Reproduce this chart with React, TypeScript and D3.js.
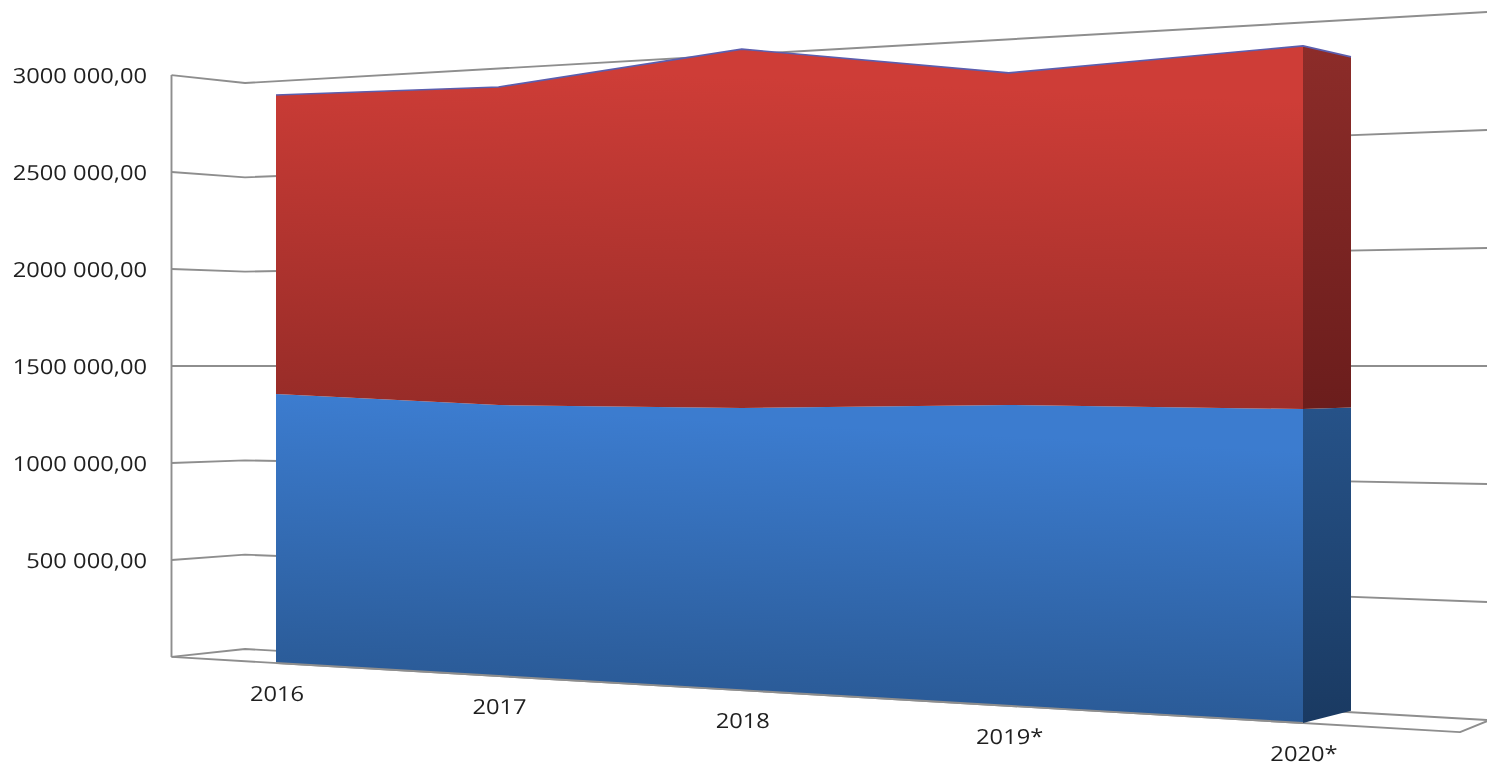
import { useEffect, useRef } from "react"
import * as d3 from "d3"

const years = ["2016", "2017", "2018", "2019*", "2020*"]
const seriesLower = [1358000, 1311000, 1306000, 1328000, 1319000]
const seriesUpper = [1511000, 1539000, 1660000, 1466000, 1526000]
const valueTicks = [0, 500000, 1000000, 1500000, 2000000, 2500000, 3000000]
const tickLabels = ["", "500 000,00", "1000 000,00", "1500 000,00", "2000 000,00", "2500 000,00", "3000 000,00"]

const width = 1487
const height = 767
const horizonY = 366 // the 1 500 000 gridline stays level, everything converges on it
const perspective = 1.205

export default function App() {
  const svgRef = useRef<SVGSVGElement>(null)

  useEffect(() => {
    if (!svgRef.current) return
    const svg = d3.select(svgRef.current)
    svg.selectAll("*").remove()

    // floor lines of the front plane and of the back wall
    const frontFloor = d3.scaleLinear().domain([276, 1303]).range([663, 723])
    const backFloor = d3.scaleLinear().domain([245, 1487]).range([649, 720])
    const sideFloor = (x: number) => backFloor(x) - 1.5
    const value = d3.scaleLinear().domain([0, 1500000]).range([1, 0])
    const project = (x: number, v: number, floor: (x: number) => number) =>
      horizonY + value(v) * (floor(x) - horizonY)

    // categories get closer together towards the far end
    const depth = d3.scaleLinear().domain([0, 1]).range([276, 1303])
    const catX = (i: number) => {
      const t = i / (years.length - 1)
      return depth(t / (t + (1 - t) * perspective))
    }

    const rows = years.map((year, i) => ({ i, year, lower: seriesLower[i], upper: seriesUpper[i] }))
    type Row = (typeof rows)[number]
    const stacked = d3.stack<Row>().keys(["lower", "upper"])(rows)

    const defs = svg.append("defs")
    const gradient = (id: string, x1: number, y1: number, x2: number, y2: number, from: string, to: string) => {
      const g = defs
        .append("linearGradient")
        .attr("id", id)
        .attr("gradientUnits", "userSpaceOnUse")
        .attr("x1", x1)
        .attr("y1", y1)
        .attr("x2", x2)
        .attr("y2", y2)
      g.append("stop").attr("offset", "0%").attr("stop-color", from)
      g.append("stop").attr("offset", "100%").attr("stop-color", to)
    }
    gradient("blue-front", 800, 425, 785, 705, "#3c7ccf", "#2a5a96")
    gradient("red-front", 800, 80, 785, 420, "#ce3d37", "#982c28")
    gradient("blue-side", 1327, 410, 1327, 720, "#265288", "#1a3a62")
    gradient("red-side", 1327, 50, 1327, 410, "#8c2c29", "#6b1d1c")

    const grid = "#8e8e8e"
    const gridLine = d3.line<[number, number]>()
    const addLine = (pts: [number, number][], color = grid, w = 1.9) =>
      svg
        .append("path")
        .attr("d", gridLine(pts))
        .attr("fill", "none")
        .attr("stroke", color)
        .attr("stroke-width", w)
        .attr("stroke-linejoin", "round")

    // left wall and back wall
    valueTicks.forEach((v) => {
      addLine([
        [171.5, project(171.5, v, frontFloor)],
        [245, project(245, v, backFloor)],
        [width, project(width, v, backFloor)],
      ])
    })
    addLine([
      [171.5, project(171.5, 3000000, frontFloor)],
      [171.5, project(171.5, 0, frontFloor)],
    ])
    addLine([
      [171.5, project(171.5, 0, frontFloor)],
      [1460, project(1460, 0, frontFloor)],
      [width, project(1460, 0, frontFloor) - 11],
    ])

    // right hand side of the block
    const lastX = catX(years.length - 1)
    const sideX = 1351
    const side = (s: d3.Series<Row, string>, fill: string) => {
      const [v0, v1] = s[years.length - 1]
      svg
        .append("path")
        .attr("fill", fill)
        .attr(
          "d",
          gridLine([
            [lastX, project(lastX, v0, frontFloor)],
            [sideX, project(sideX, v0, sideFloor)],
            [sideX, project(sideX, v1, sideFloor)],
            [lastX, project(lastX, v1, frontFloor)],
          ]),
        )
    }
    side(stacked[0], "url(#blue-side)")
    side(stacked[1], "url(#red-side)")

    // front faces
    const area = d3
      .area<d3.SeriesPoint<Row>>()
      .x((d) => catX(d.data.i))
      .y0((d) => project(catX(d.data.i), d[0], frontFloor))
      .y1((d) => project(catX(d.data.i), d[1], frontFloor))
    svg.append("path").datum(stacked[0]).attr("fill", "url(#blue-front)").attr("d", area)
    svg.append("path").datum(stacked[1]).attr("fill", "url(#red-front)").attr("d", area)

    // outline along the top of the block
    const topPoints = stacked[1].map((d): [number, number] => [
      catX(d.data.i),
      project(catX(d.data.i), d[1], frontFloor),
    ])
    const lastTop = stacked[1][years.length - 1][1]
    addLine([...topPoints, [sideX, project(sideX, lastTop, sideFloor)]], "#5b5eae", 1.6)
    addLine(
      [
        [catX(0), project(catX(0), 0, frontFloor)],
        [lastX, project(lastX, 0, frontFloor)],
      ],
      grid,
      1.9,
    )

    const label = (text: string, x: number, y: number, anchor: string) =>
      svg
        .append("text")
        .attr("transform", `translate(${x},${y}) scale(1.14,1)`)
        .attr("text-anchor", anchor)
        .attr("text-rendering", "geometricPrecision")
        .attr("font-family", "'Open Sans', sans-serif")
        .attr("font-size", 20.8)
        .attr("fill", "#1f1f1f")
        .text(text)

    valueTicks.forEach((v, i) => {
      if (tickLabels[i]) label(tickLabels[i], 147, project(171.5, v, frontFloor) + 8, "end")
    })
    years.forEach((year, i) => {
      label(year, catX(i) + 1, project(catX(i), 0, frontFloor) + 38, "middle")
    })
  }, [])

  return (
    <svg
      ref={svgRef}
      width={width}
      height={height}
      style={{ position: "absolute", left: 0, top: 0, background: "#ffffff", filter: "blur(0.5px)" }}
    />
  )
}
